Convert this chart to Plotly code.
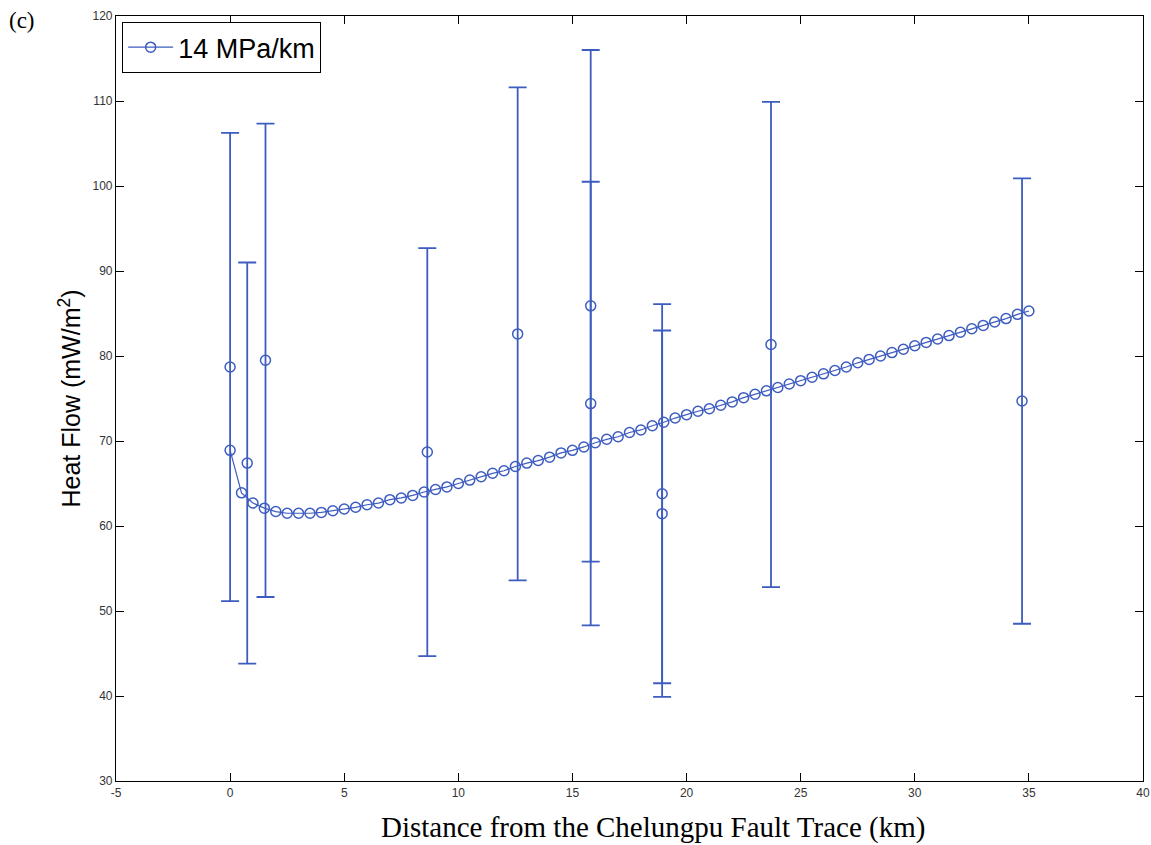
import plotly.graph_objects as go

# Model curve (14 MPa/km), 0.5 km spacing from 0 to 35 km
model_x = [i * 0.5 for i in range(71)]
model_y = [68.9, 63.9, 62.7, 62.1, 61.7, 61.5, 61.5, 61.5, 61.6, 61.8,
           62.0, 62.2, 62.5, 62.7, 63.1, 63.3, 63.6, 64.0, 64.3, 64.6,
           65.0, 65.4, 65.8, 66.2, 66.5, 67.0, 67.4, 67.7, 68.1, 68.6,
           68.9, 69.3, 69.8, 70.2, 70.5, 71.0, 71.3, 71.8, 72.2, 72.7,
           73.1, 73.5, 73.8, 74.2, 74.6, 75.1, 75.5, 75.9, 76.3, 76.7,
           77.1, 77.5, 77.9, 78.3, 78.7, 79.2, 79.6, 80.0, 80.4, 80.8,
           81.2, 81.6, 82.0, 82.4, 82.8, 83.2, 83.6, 84.0, 84.4, 84.9,
           85.3]

# Observed heat flow with error bars
obs_x = [0.0, 0.75, 1.55, 8.64, 12.6, 15.8, 15.8, 18.93, 18.93, 23.7, 34.7]
obs_y = [78.7, 67.4, 79.5, 68.7, 82.6, 85.9, 74.4, 63.8, 61.45, 81.35, 74.7]
obs_err = [27.55, 23.6, 27.85, 24.0, 29.0, 30.1, 26.1, 22.3, 21.55, 28.55, 26.2]

x_ticks = [-5, 0, 5, 10, 15, 20, 25, 30, 35, 40]
y_ticks = [30, 40, 50, 60, 70, 80, 90, 100, 110, 120]

BLUE = "#3d5cc0"

fig = go.Figure()

fig.add_trace(go.Scatter(
    x=obs_x, y=obs_y, mode="markers",
    marker=dict(symbol="circle-open", size=10, color=BLUE, line=dict(width=1.5)),
    error_y=dict(type="data", array=obs_err, visible=True, color=BLUE,
                 thickness=1.8, width=9),
    showlegend=False,
))

fig.add_trace(go.Scatter(
    x=model_x, y=model_y, mode="lines+markers", name="14 MPa/km",
    line=dict(color=BLUE, width=1.2),
    marker=dict(symbol="circle-open", size=10, color=BLUE, line=dict(width=1.5)),
))

axis_common = dict(
    showgrid=False, zeroline=False, showline=True, linecolor="black",
    linewidth=1.2, mirror="ticks", ticks="inside", ticklen=8,
    tickcolor="black", tickwidth=1.2, automargin=False,
    tickfont=dict(family="Liberation Sans, Arial, sans-serif", size=12, color="#333333"),
)

fig.update_layout(
    width=1151, height=845, autosize=False,
    margin=dict(l=116, r=8, t=16, b=64, autoexpand=False),
    paper_bgcolor="white", plot_bgcolor="white",
    xaxis=dict(range=[-5, 40], tickvals=x_ticks, ticktext=[str(v) for v in x_ticks],
               **axis_common),
    yaxis=dict(range=[30, 120], tickvals=y_ticks, ticktext=[str(v) for v in y_ticks],
               title=dict(text="Heat Flow (mW/m<sup>2</sup>)",
                          font=dict(family="Liberation Sans, Arial, sans-serif", size=25, color="black"),
                          standoff=4),
               **axis_common),
    legend=dict(x=0.006, y=0.992, xanchor="left", yanchor="top",
                bordercolor="black", borderwidth=1, bgcolor="white",
                font=dict(family="Liberation Sans, Arial, sans-serif", size=27, color="black"),
                itemwidth=45, tracegroupgap=0),
    annotations=[
        dict(text="Distance from the Chelungpu Fault Trace (km)", xref="paper", yref="paper",
             x=(653 - 116) / 1027, y=-0.036, xanchor="center", yanchor="top", showarrow=False,
             font=dict(family="Liberation Serif, Times New Roman, serif", size=29, color="black")),
        dict(text="(c)", xref="paper", yref="paper", x=-0.106, y=1.013, xanchor="left",
             yanchor="top", showarrow=False,
             font=dict(family="Liberation Serif, Times New Roman, serif", size=23, color="black")),
    ],
)

fig.write_html("out.html")
